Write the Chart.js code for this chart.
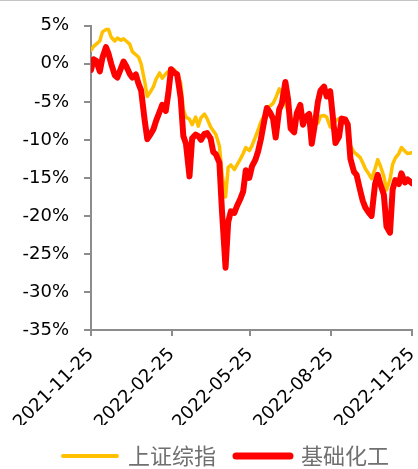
<!DOCTYPE html>
<html>
<head>
<meta charset="utf-8">
<script src="https://cdn.jsdelivr.net/npm/chart.js@4/dist/chart.umd.min.js"></script>
<style>
  html, body { margin: 0; padding: 0; background: #fff; }
  #wrap { position: relative; width: 418px; height: 469px; }
  #topLine { position: absolute; left: 0; top: 0; width: 418px; height: 1px; background: #c4c4c4; }
</style>
</head>
<body>
<div id="wrap">
  <canvas id="lineChartCanvas" width="418" height="469"></canvas>
  <div id="topLine"></div>
</div>
<script>
const dates = [
  '2021-11-25', '2021-11-28', '2021-12-01', '2021-12-05', '2021-12-08',
  '2021-12-12', '2021-12-15', '2021-12-18', '2021-12-22', '2021-12-25',
  '2021-12-29', '2022-01-01', '2022-01-04', '2022-01-08', '2022-01-11',
  '2022-01-15', '2022-01-18', '2022-01-21', '2022-01-25', '2022-01-28',
  '2022-02-01', '2022-02-04', '2022-02-07', '2022-02-11', '2022-02-14',
  '2022-02-18', '2022-02-21', '2022-02-24', '2022-02-28', '2022-03-03',
  '2022-03-07', '2022-03-10', '2022-03-13', '2022-03-17', '2022-03-20',
  '2022-03-24', '2022-03-27', '2022-03-30', '2022-04-03', '2022-04-06',
  '2022-04-10', '2022-04-13', '2022-04-16', '2022-04-20', '2022-04-23',
  '2022-04-27', '2022-04-30', '2022-05-03', '2022-05-07', '2022-05-10',
  '2022-05-14', '2022-05-17', '2022-05-20', '2022-05-24', '2022-05-27',
  '2022-05-31', '2022-06-03', '2022-06-06', '2022-06-10', '2022-06-13',
  '2022-06-17', '2022-06-20', '2022-06-23', '2022-06-27', '2022-06-30',
  '2022-07-04', '2022-07-07', '2022-07-10', '2022-07-14', '2022-07-17',
  '2022-07-21', '2022-07-24', '2022-07-27', '2022-07-31', '2022-08-03',
  '2022-08-07', '2022-08-10', '2022-08-13', '2022-08-17', '2022-08-20',
  '2022-08-24', '2022-08-27', '2022-08-30', '2022-09-03', '2022-09-06',
  '2022-09-10', '2022-09-13', '2022-09-16', '2022-09-20', '2022-09-23',
  '2022-09-27', '2022-09-30', '2022-10-03', '2022-10-07', '2022-10-10',
  '2022-10-14', '2022-10-17', '2022-10-20', '2022-10-24', '2022-10-27',
  '2022-10-31', '2022-11-03', '2022-11-06', '2022-11-10', '2022-11-13',
  '2022-11-17', '2022-11-20', '2022-11-25'
];

// 上证综指
const shanghaiIndex = [
  1.8, 2.3, 2.6, 3.0, 4.2, 4.5, 4.5, 3.5, 3.0, 3.4,
  3.1, 3.3, 3.0, 2.6, 1.6, 1.2, 0.9, 0.0, -2.3, -4.3,
  -3.6, -3.0, -2.0, -1.2, -1.9, -1.3, -1.0, -0.7, -0.8, -1.3,
  -2.5, -6.0, -7.0, -7.3, -8.0, -7.0, -8.2, -7.1, -6.6, -7.2,
  -8.3, -8.8, -9.3, -10.8, -14.5, -17.5, -13.6, -13.3, -13.9, -13.3,
  -12.5, -11.8, -11.0, -11.4, -10.8, -9.6, -8.7, -7.7, -6.8, -5.8,
  -5.5, -5.2, -4.5, -3.3, -3.9, -5.2, -6.2, -7.0, -7.6, -7.3,
  -6.9, -7.2, -7.1, -6.8, -7.0, -7.5, -7.8, -6.9, -6.8, -7.0,
  -8.3, -8.4, -7.5, -7.2, -7.3, -7.4, -8.5, -10.8, -11.6, -11.9,
  -12.3, -13.0, -13.8, -14.5, -15.1, -13.8, -12.6, -13.4, -14.8, -16.6,
  -15.2, -13.2, -12.4, -11.8, -11.0, -11.5, -11.8, -11.7
];

// 基础化工
const basicChemicals = [
  -0.8, 0.6, 0.4, -1.0, 0.8, 2.2, 1.3, 0.0, -1.5, -1.8,
  -0.6, 0.3, -0.3, -1.3, -1.8, -1.4, -2.6, -3.5, -7.4, -9.9,
  -9.2, -8.6, -7.5, -6.3, -5.4, -6.2, -3.8, -0.7, -1.2, -1.4,
  -4.5, -9.5, -10.5, -14.8, -9.8, -9.3, -9.5, -10.0, -9.2, -9.1,
  -9.8, -11.6, -11.9, -13.0, -19.5, -26.8, -20.8, -19.4, -19.6, -18.7,
  -17.7, -16.8, -14.0, -15.0, -13.5, -12.6, -11.5, -10.0, -7.5, -5.8,
  -6.5, -7.2, -9.7, -6.0, -5.2, -2.4, -4.6, -8.5, -9.0, -6.5,
  -5.4, -8.0, -7.0, -6.6, -10.5, -7.6, -5.0, -3.5, -3.0, -4.3,
  -3.6, -7.0, -10.4, -9.6, -7.2, -7.3, -8.0, -12.5, -14.2, -14.6,
  -16.6, -18.0, -18.9, -19.6, -20.0, -15.8, -14.6, -15.8, -17.2, -21.4,
  -22.2, -16.5, -15.3, -15.8, -14.4, -15.6, -15.2, -15.7
];

const tickDates = ['2021-11-25', '2022-02-25', '2022-05-25', '2022-08-25', '2022-11-25'];

const TICK_FONT = '"DejaVu Sans", sans-serif';
const LEGEND_FONT = '"Noto Sans CJK SC", sans-serif';
const AXIS_COLOR = '#8c8c8c';

const dayOf = (d) => (Date.parse(d) - Date.parse(dates[0])) / 86400000;

const toPoints = (values) => dates.map((d, i) => ({ x: dayOf(d), y: values[i] }));

// nudge the legend to the right, like the original sits under the plot
const legendShift = {
  id: 'legendShift',
  afterLayout: (chart) => {
    chart.legend.left += 20;
    chart.legend.right += 20;
  }
};

const getChartData = () => {
  return {
    datasets: [
      {
        label: '上证综指',
        data: toPoints(shanghaiIndex),
        borderColor: '#FFC000',
        backgroundColor: '#FFC000',
        borderWidth: 3.5,
        pointRadius: 0,
        order: 1
      },
      {
        label: '基础化工',
        data: toPoints(basicChemicals),
        borderColor: '#FF0000',
        backgroundColor: '#FF0000',
        borderWidth: 6,
        pointRadius: 0,
        order: 0
      }
    ]
  };
};

const getChartOptions = () => {
  return {
    responsive: false,
    animation: false,
    layout: {
      padding: { top: 15, right: 6, left: 0, bottom: -8 }
    },
    elements: {
      line: { tension: 0, borderJoinStyle: 'round', borderCapStyle: 'round' }
    },
    plugins: {
      legend: {
        position: 'bottom',
        labels: {
          usePointStyle: true,
          pointStyle: 'line',
          pointStyleWidth: 54,
          color: '#707070',
          padding: 20,
          font: { size: 22, family: LEGEND_FONT },
          sort: (a, b) => a.datasetIndex - b.datasetIndex,
          generateLabels: (chart) => {
            const items = Chart.defaults.plugins.legend.labels.generateLabels(chart);
            return items.map((item) => ({
              ...item,
              lineCap: 'round',
              lineWidth: item.datasetIndex === 0 ? 4 : 7
            }));
          }
        }
      },
      tooltip: { enabled: false }
    },
    scales: {
      x: {
        type: 'linear',
        min: 0,
        max: dayOf(tickDates[tickDates.length - 1]),
        afterBuildTicks: (scale) => {
          scale.ticks = tickDates.map((d) => ({ value: dayOf(d) }));
        },
        afterFit: (scale) => {
          scale.height = 95;
          scale.paddingLeft = 0;
          scale.paddingRight = 0;
        },
        ticks: {
          autoSkip: false,
          minRotation: 45,
          maxRotation: 45,
          color: '#000',
          padding: 8,
          font: { size: 18, family: TICK_FONT },
          callback: (value) => {
            const found = tickDates.find((d) => dayOf(d) === value);
            return found || '';
          }
        },
        grid: {
          drawOnChartArea: false,
          drawTicks: true,
          tickLength: 6,
          color: AXIS_COLOR,
          lineWidth: 2
        },
        border: { color: AXIS_COLOR, width: 2 }
      },
      y: {
        min: -35,
        max: 5,
        afterFit: (scale) => {
          scale.width = 91;
        },
        ticks: {
          stepSize: 5,
          color: '#000',
          padding: 15,
          font: { size: 18, family: TICK_FONT },
          callback: (value) => value + '%'
        },
        grid: {
          drawOnChartArea: false,
          drawTicks: true,
          tickLength: 7,
          color: AXIS_COLOR,
          lineWidth: 2
        },
        border: { color: AXIS_COLOR, width: 2 }
      }
    }
  };
};

const lineChartCanvas = document.getElementById('lineChartCanvas');

const lineChart = new Chart(lineChartCanvas, {
  type: 'line',
  data: getChartData(),
  options: getChartOptions(),
  plugins: [legendShift]
});
</script>
</body>
</html>
